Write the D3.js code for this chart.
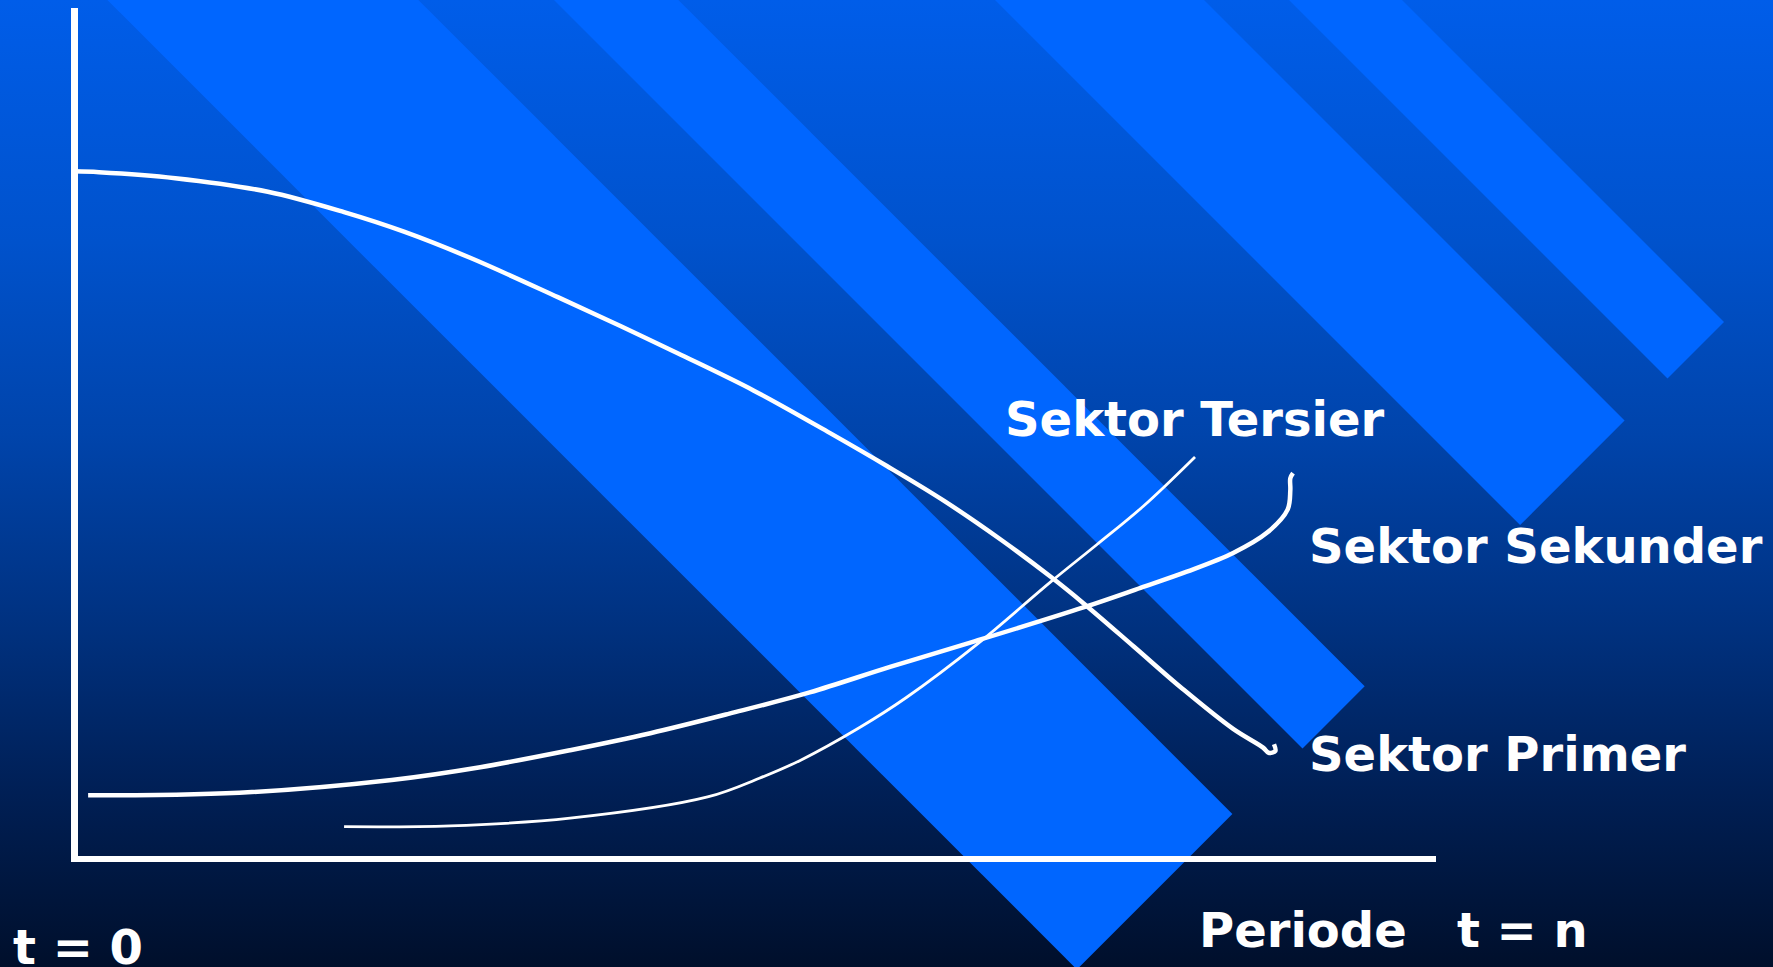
<!DOCTYPE html>
<html>
<head>
<meta charset="utf-8">
<script src="https://cdn.jsdelivr.net/npm/d3@7/dist/d3.min.js"></script>
<style>
  html, body { margin: 0; padding: 0; background: #00102c; overflow: hidden; }
  svg { display: block; }
  text { font-family: "DejaVu Sans", Verdana, sans-serif; font-weight: bold; fill: #ffffff; white-space: pre; }
</style>
</head>
<body>
<svg id="chart" width="1773" height="967"></svg>
<script>
// ---- Data (conceptual units: time 0..100, share 0..100) ----
const seriesNames = ["Sektor Primer", "Sektor Sekunder", "Sektor Tersier"];

const primerT = [0, 1.8, 7.4, 14.2, 19.8, 24.2, 29.1, 35.5, 40.1, 44.3, 49.9, 55.5, 59.7, 63.9, 68.1, 71.7, 74.1, 77.8, 81.4, 85.1, 87.3, 87.7, 88.2, 88.1];
const primerV = [80.9, 80.8, 80.1, 78.5, 76.1, 73.8, 70.7, 66.1, 62.7, 59.5, 55.1, 50.1, 46.2, 42.1, 37.5, 33.2, 30.1, 25.0, 20.0, 15.3, 13.1, 12.5, 12.7, 13.5];

const sekunderT = [1.0, 12.1, 23.3, 29.8, 36.4, 42.3, 48.1, 54.0, 59.9, 66.1, 74.1, 78.3, 81.7, 85.1, 87.6, 89.1, 89.3, 89.3, 89.5];
const sekunderV = [7.5, 7.8, 9.3, 10.8, 12.8, 14.8, 17.1, 19.6, 22.6, 25.6, 29.6, 31.9, 33.8, 36.0, 38.4, 41.1, 43.4, 44.8, 45.4];

const tersierT = [19.8, 27.6, 36.4, 46.5, 50.3, 53.3, 57.7, 61.1, 66.4, 71.7, 75.1, 78.5, 82.3];
const tersierV = [3.8, 3.9, 4.8, 7.3, 9.5, 11.6, 15.5, 19.0, 25.4, 32.6, 37.0, 41.5, 47.3];

const axisLabels = { start: "t = 0", end: "Periode   t = n" };

// ---- Layout ----
const W = 1773, H = 967;
const svg = d3.select("#chart");

const x = d3.scaleLinear().domain([0, 100]).range([74.5, 1436]);
const y = d3.scaleLinear().domain([0, 100]).range([859, 9]);

// Background gradient
const defs = svg.append("defs");
const grad = defs.append("linearGradient").attr("id", "bg")
  .attr("x1", 0).attr("y1", 0).attr("x2", 0).attr("y2", 1);
[[0, "#005de9"], [0.25, "#0052cc"], [0.45, "#0044ab"], [0.65, "#00317f"], [0.82, "#001f55"], [1, "#000f2b"]]
  .forEach(([o, c]) => grad.append("stop").attr("offset", o).attr("stop-color", c));
svg.append("rect").attr("width", W).attr("height", H).attr("fill", "url(#bg)");

// Decorative diagonal stripes (template background)
const stripes = [
  { x0: 107.4, x1: 418.4, endR: 814 },
  { x0: 554,   x1: 678.4, endR: 686.3 },
  { x0: 995,   x1: 1204,  endR: 420.6 },
  { x0: 1289,  x1: 1402,  endR: 322 }
];
svg.append("g").selectAll("path").data(stripes).join("path")
  .attr("fill", "#0066ff")
  .attr("d", s => {
    const w = s.x1 - s.x0;
    const rx = s.x1 + s.endR, ry = s.endR;
    const lx = rx - w / 2, ly = ry + w / 2;
    return `M${s.x0},0 L${s.x1},0 L${rx},${ry} L${lx},${ly} Z`;
  });

// Axes
const axisG = svg.append("g").attr("stroke", "#ffffff").attr("fill", "none");
axisG.append("line")
  .attr("x1", x(0)).attr("x2", x(0))
  .attr("y1", y(0) + 3).attr("y2", y(100) - 1)
  .attr("stroke-width", 7);
axisG.append("line")
  .attr("x1", x(0) - 3.5).attr("x2", x(100))
  .attr("y1", y(0)).attr("y2", y(0))
  .attr("stroke-width", 6);

// Curves
const line = d3.line().x(d => x(d[0])).y(d => y(d[1])).curve(d3.curveCatmullRom.alpha(0.5));
const series = [
  { name: seriesNames[0], pts: d3.zip(primerT, primerV), w: 4.5 },
  { name: seriesNames[1], pts: d3.zip(sekunderT, sekunderV), w: 4.5 },
  { name: seriesNames[2], pts: d3.zip(tersierT, tersierV), w: 2.8 }
];
svg.append("g").selectAll("path").data(series).join("path")
  .attr("d", d => line(d.pts))
  .attr("fill", "none")
  .attr("stroke", "#ffffff")
  .attr("stroke-width", d => d.w)
  .attr("stroke-linejoin", "round");

// Labels
const fs = 48;
const labels = [
  { text: seriesNames[2], x: 1005, y: 436 },
  { text: seriesNames[1], x: 1309, y: 563 },
  { text: seriesNames[0], x: 1309, y: 771 },
  { text: axisLabels.end, x: 1199, y: 947 },
  { text: axisLabels.start, x: 13, y: 964 }
];
svg.append("g").selectAll("text").data(labels).join("text")
  .attr("x", d => d.x).attr("y", d => d.y)
  .attr("font-size", fs)
  .text(d => d.text);
</script>
</body>
</html>
